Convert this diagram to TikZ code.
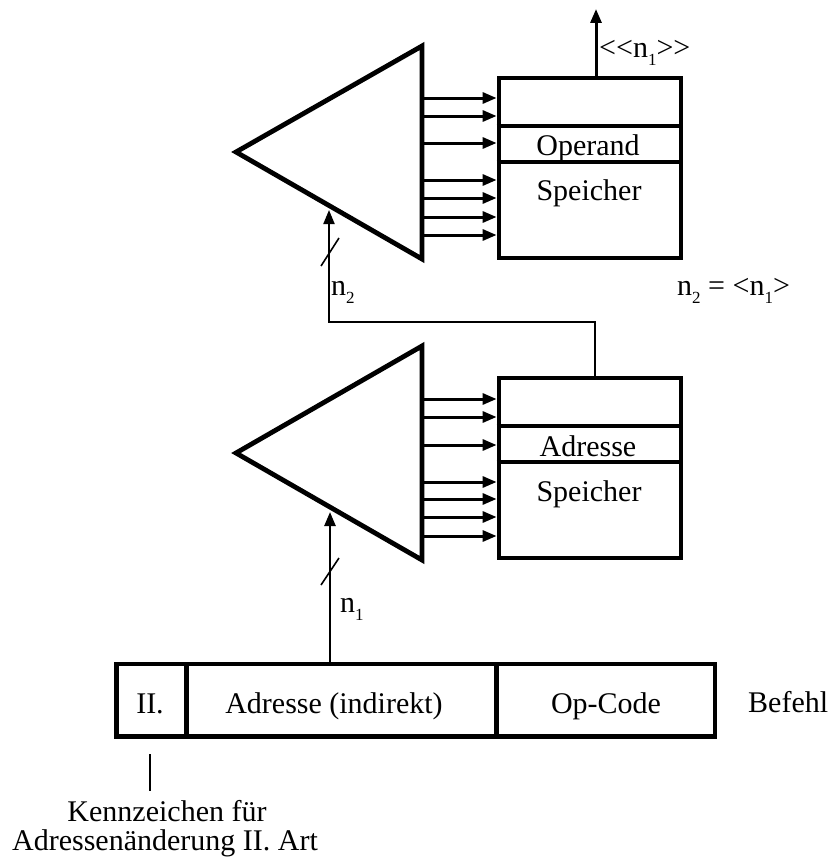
\documentclass[tikz,border=0pt]{standalone}
\usepackage{fontspec}
\setmainfont{Liberation Serif}
\usetikzlibrary{arrows.meta}

% lowered index digit, as in n_1
\newcommand\idx[1]{\raisebox{-8pt}{\fontsize{17}{17}\selectfont #1}}

\begin{document}
\begin{tikzpicture}[x=1pt,y=-1pt,
  every node/.style={inner sep=0pt,font=\fontsize{30}{36}\selectfont},
  thickbox/.style={draw,line width=4.8pt,rectangle,minimum width=182pt,minimum height=180pt},
  fieldbox/.style={draw,line width=4.8pt,rectangle,minimum height=72.5pt},
  amp/.style={draw,line width=4.8pt,line join=miter},
  divider/.style={line width=4.2pt},
  tip/.style={-{Triangle[length=14pt,width=11pt]}},
  busarrow/.style={line width=3pt,tip},
  inarrow/.style={line width=2.5pt,tip},
  thinline/.style={line width=2pt},
  tick/.style={line width=1.6pt},
  lbl/.style={anchor=base},
  lblw/.style={anchor=base west}]

\useasboundingbox (0,0) rectangle (834,867);

% ---------- upper stage: operand memory ----------
\coordinate (ampO-t) at (422,46);
\coordinate (ampO-a) at (236,152);
\coordinate (ampO-b) at (422,259);
\draw[amp] (ampO-t) -- (ampO-a) -- (ampO-b) -- cycle;

\node[thickbox] (memO) at (590,168) {};
\draw[divider] (memO.west |- 0,126) -- (memO.east |- 0,126);
\draw[divider] (memO.west |- 0,162) -- (memO.east |- 0,162);
\node[lbl] (opText) at (588,155) {Operand};
\node[lbl] (memOText) at (589,200) {Speicher};

\foreach \yy in {98,116,143,180,198,217,235}
  \draw[busarrow] (ampO-t |- 0,\yy) -- (memO.west |- 0,\yy);

\coordinate (outO) at (596,9);
\draw[busarrow] (memO.north -| outO) -- (outO);
\node[lblw] (outLbl) at (599,58) {<{}<n\idx{1}>{}>};

% ---------- lower stage: address memory ----------
\coordinate (ampA-t) at (422,346);
\coordinate (ampA-a) at (236,453);
\coordinate (ampA-b) at (422,560);
\draw[amp] (ampA-t) -- (ampA-a) -- (ampA-b) -- cycle;

\node[thickbox] (memA) at (590,468) {};
\draw[divider] (memA.west |- 0,426) -- (memA.east |- 0,426);
\draw[divider] (memA.west |- 0,462) -- (memA.east |- 0,462);
\node[lbl] (adrText) at (588,456) {Adresse};
\node[lbl] (memAText) at (589,501) {Speicher};

\foreach \yy in {399,417,445,482,499,517,536}
  \draw[busarrow] (ampA-t |- 0,\yy) -- (memA.west |- 0,\yy);

% address read out of memA selects the operand
\coordinate (tapA) at (595,322);
\coordinate (n2corner) at (329,322);
\coordinate (in2) at (329,210);
\draw[thinline,tip]
  (memA.north -| tapA) -- (tapA) -- (n2corner) -- (in2);
\draw[tick] (321,266) -- (339,238);
\node[lblw] (n2Lbl) at (331,295) {n\idx{2}};
\node[lblw] (eqLbl) at (677,295) {n\idx{2} = <n\idx{1}>};

% ---------- instruction word ----------
\node[fieldbox,minimum width=70.4pt] (befII) at (151.5,700.25) {};
\node[fieldbox,minimum width=309.8pt] (befAdr) at (341.6,700.25) {};
\node[fieldbox,minimum width=218.5pt] (befOp) at (605.75,700.25) {};
\node[lbl] (iiText) at (150,713) {II.};
\node[lbl] (adrIndText) at (334,713) {Adresse (indirekt)};
\node[lbl] (opCodeText) at (606,713) {Op-Code};
\node[lblw] (befehlText) at (748,712) {Befehl};

\coordinate (in1) at (330,512);
\draw[inarrow] (befAdr.north -| in1) -- (in1);
\draw[tick] (321,585) -- (339,558);
\node[lblw] (n1Lbl) at (340,612) {n\idx{1}};

% marker note
\coordinate (mkTop) at (150,754);
\coordinate (mkBot) at (150,791);
\draw[thinline] (mkTop) -- (mkBot);
\node[lbl] (kz1) at (167,821) {Kennzeichen für};
\node[lbl] (kz2) at (165,850) {Adressenänderung II. Art};

\end{tikzpicture}
\end{document}
